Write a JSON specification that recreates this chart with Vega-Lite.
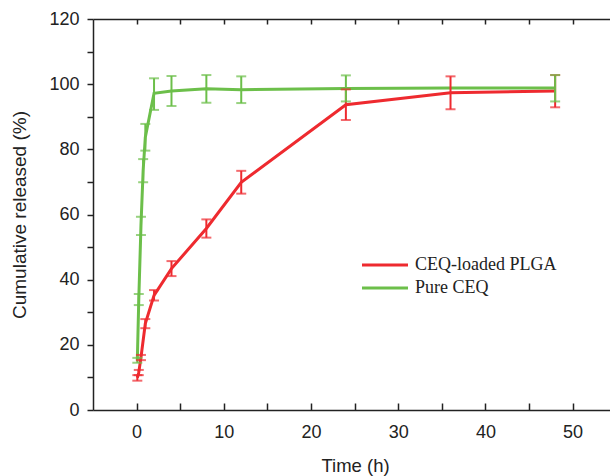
{
  "$schema": "https://vega.github.io/schema/vega-lite/v6.json",
  "autosize": {"type": "none"},
  "padding": {"left": 93, "top": 19, "right": 0, "bottom": 66},
  "width": 517,
  "height": 391,
  "background": "white",
  "config": {
    "view": {"stroke": null},
    "font": "Liberation Sans",
    "legend": {"padding": 0},
    "axis": {
      "domainColor": "#222222",
      "tickColor": "#222222",
      "domainWidth": 1.5,
      "tickWidth": 1.5,
      "labelColor": "#222222",
      "titleColor": "#222222",
      "labelFont": "Liberation Sans",
      "titleFont": "Liberation Sans",
      "labelFontSize": 18,
      "titleFontSize": 18,
      "titleFontWeight": "normal",
      "grid": false
    }
  },
  "data": {
    "values": [
      {"series": "CEQ-loaded PLGA", "t": 0.083, "mean": 9.9, "lo": 9.0, "hi": 10.7},
      {"series": "CEQ-loaded PLGA", "t": 0.25, "mean": 11.5, "lo": 10.7, "hi": 12.3},
      {"series": "CEQ-loaded PLGA", "t": 0.5, "mean": 16.1, "lo": 15.3, "hi": 16.9},
      {"series": "CEQ-loaded PLGA", "t": 1, "mean": 26.5, "lo": 25.1, "hi": 27.9},
      {"series": "CEQ-loaded PLGA", "t": 2, "mean": 35.2, "lo": 33.6, "hi": 36.8},
      {"series": "CEQ-loaded PLGA", "t": 4, "mean": 43.4, "lo": 41.1, "hi": 45.7},
      {"series": "CEQ-loaded PLGA", "t": 8, "mean": 55.7, "lo": 52.9, "hi": 58.5},
      {"series": "CEQ-loaded PLGA", "t": 12, "mean": 69.9, "lo": 66.4, "hi": 73.4},
      {"series": "CEQ-loaded PLGA", "t": 24, "mean": 93.7, "lo": 89.0, "hi": 98.4},
      {"series": "CEQ-loaded PLGA", "t": 36, "mean": 97.4, "lo": 92.3, "hi": 102.4},
      {"series": "CEQ-loaded PLGA", "t": 48, "mean": 97.9, "lo": 92.9, "hi": 102.8},
      {"series": "Pure CEQ", "t": 0.083, "mean": 15.2, "lo": 14.5, "hi": 16.0},
      {"series": "Pure CEQ", "t": 0.25, "mean": 33.9, "lo": 32.2, "hi": 35.6},
      {"series": "Pure CEQ", "t": 0.5, "mean": 56.5, "lo": 53.7, "hi": 59.3},
      {"series": "Pure CEQ", "t": 0.75, "mean": 73.5, "lo": 69.9, "hi": 77.0},
      {"series": "Pure CEQ", "t": 1, "mean": 83.7, "lo": 79.6, "hi": 87.8},
      {"series": "Pure CEQ", "t": 2, "mean": 97.2, "lo": 92.1, "hi": 101.8},
      {"series": "Pure CEQ", "t": 4, "mean": 97.9, "lo": 93.3, "hi": 102.5},
      {"series": "Pure CEQ", "t": 8, "mean": 98.6, "lo": 94.3, "hi": 102.8},
      {"series": "Pure CEQ", "t": 12, "mean": 98.3, "lo": 94.2, "hi": 102.4},
      {"series": "Pure CEQ", "t": 24, "mean": 98.7, "lo": 94.7, "hi": 102.7},
      {"series": "Pure CEQ", "t": 36, "mean": 98.8, "lo": null, "hi": null},
      {"series": "Pure CEQ", "t": 48, "mean": 98.8, "lo": 94.7, "hi": 102.8}
    ]
  },
  "layer": [
    {
      "mark": {"type": "line", "strokeWidth": 3},
      "encoding": {
        "x": {
          "field": "t", "type": "quantitative",
          "scale": {"domain": [-5, 54.29], "nice": false, "zero": false},
          "axis": {
            "orient": "bottom",
            "values": [0, 5, 10, 15, 20, 25, 30, 35, 40, 45, 50],
            "labelExpr": "datum.value % 10 === 0 ? datum.label : ''",
            "tickSize": -7,
            "labelPadding": 20,
            "title": "Time (h)",
            "titleFontSize": 18.5,
            "titlePadding": 15,
            "titleX": 262,
            "encode": {"ticks": {"update": {"y2": {"signal": "datum.value % 10 === 0 ? -7 : -4"}}}}
          }
        },
        "y": {
          "field": "mean", "type": "quantitative",
          "scale": {"domain": [0, 120], "nice": false},
          "axis": {
            "orient": "left",
            "values": [0, 10, 20, 30, 40, 50, 60, 70, 80, 90, 100, 110, 120],
            "labelExpr": "datum.value % 20 === 0 ? datum.label : ''",
            "tickSize": 6,
            "labelPadding": 8,
            "title": "Cumulative released (%)",
            "titleFontSize": 19,
            "titlePadding": 19,
            "encode": {"ticks": {"update": {"x2": {"signal": "datum.value % 20 === 0 ? -6 : -3"}}}}
          }
        },
        "color": {
          "field": "series", "type": "nominal",
          "scale": {"domain": ["CEQ-loaded PLGA", "Pure CEQ"], "range": ["#ee2a2f", "#6cbf4a"]},
          "legend": {
            "orient": "none",
            "legendX": 279,
            "legendY": 233,
            "title": null,
            "symbolType": "M-2,0H2",
            "symbolSize": 529,
            "symbolStrokeWidth": 3,
            "labelFont": "Liberation Serif",
            "labelFontSize": 18,
            "labelColor": "#222222",
            "labelOffset": 17,
            "rowPadding": 1
          }
        }
      }
    },
    {
      "mark": {"type": "rule", "strokeWidth": 2},
      "encoding": {
        "x": {
          "field": "t", "type": "quantitative",
          "scale": {"domain": [-5, 54.29], "nice": false, "zero": false},
          "axis": {
            "orient": "top",
            "values": [0, 5, 10, 15, 20, 25, 30, 35, 40, 45, 50],
            "labels": false,
            "title": null,
            "tickSize": -5,
            "encode": {"ticks": {"update": {"y2": {"signal": "datum.value % 10 === 0 ? 5 : 3"}}}}
          }
        },
        "y": {"field": "lo", "type": "quantitative", "scale": {"domain": [0, 120], "nice": false}, "axis": null},
        "y2": {"field": "hi"},
        "color": {"field": "series", "type": "nominal", "legend": null}
      }
    },
    {
      "mark": {"type": "tick", "orient": "horizontal", "size": 10, "thickness": 2},
      "encoding": {
        "x": {"field": "t", "type": "quantitative", "scale": {"domain": [-5, 54.29], "nice": false, "zero": false}, "axis": null},
        "y": {"field": "lo", "type": "quantitative", "scale": {"domain": [0, 120], "nice": false}, "axis": null},
        "color": {"field": "series", "type": "nominal", "legend": null}
      }
    },
    {
      "mark": {"type": "tick", "orient": "horizontal", "size": 10, "thickness": 2},
      "encoding": {
        "x": {"field": "t", "type": "quantitative", "scale": {"domain": [-5, 54.29], "nice": false, "zero": false}, "axis": null},
        "y": {"field": "hi", "type": "quantitative", "scale": {"domain": [0, 120], "nice": false}, "axis": null},
        "color": {"field": "series", "type": "nominal", "legend": null}
      }
    }
  ],
  "resolve": {"axis": {"x": "independent", "y": "independent"}}
}
